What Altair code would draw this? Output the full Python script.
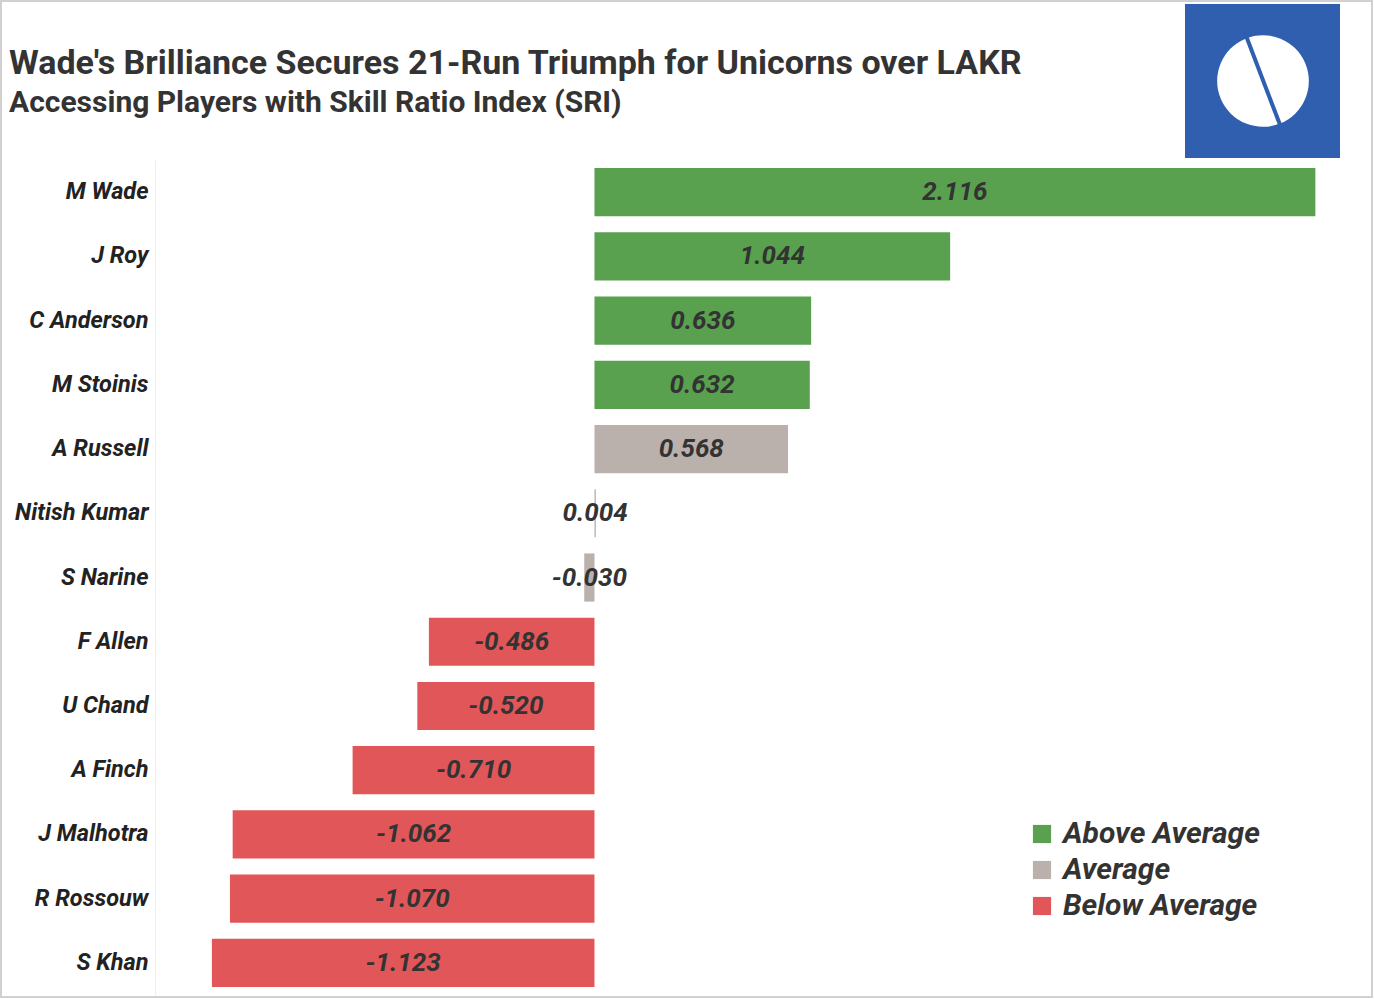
import altair as alt
import pandas as pd

players = ["M Wade", "J Roy", "C Anderson", "M Stoinis", "A Russell", "Nitish Kumar",
           "S Narine", "F Allen", "U Chand", "A Finch", "J Malhotra", "R Rossouw", "S Khan"]
sri = [2.116, 1.044, 0.636, 0.632, 0.568, 0.004, -0.030, -0.486, -0.520, -0.710,
       -1.062, -1.070, -1.123]
groups = ["Above Average"] * 4 + ["Average"] * 3 + ["Below Average"] * 6
labels = [f"{v:.3f}" for v in sri]

title_text = "Wade's Brilliance Secures 21-Run Triumph for Unicorns over LAKR"
subtitle_text = "Accessing Players with Skill Ratio Index (SRI)"

df = pd.DataFrame({"player": players, "sri": sri, "group": groups, "label": labels})
df["mid"] = df["sri"] / 2

cat_order = ["Above Average", "Average", "Below Average"]
cat_colors = ["#59A14F", "#BAB0AC", "#E15759"]

W, H = 1206, 835
LEFT, TOP = 155, 160

xscale = alt.Scale(domain=[-1.29, 2.25], nice=False, zero=False)
yenc = alt.Y("player:N", sort=players, title=None,
             scale=alt.Scale(paddingInner=0.25, paddingOuter=0.125),
             axis=alt.Axis(labelFont="Roboto", labelFontSize=23.5, labelFontWeight="bold",
                           labelFontStyle="italic", labelColor="#222222", ticks=False,
                           labelPadding=7, domainColor="#eeeeee", domainWidth=1,
                           labelLimit=0))

bars = alt.Chart(df).mark_bar().encode(
    x=alt.X("sri:Q", scale=xscale, axis=None),
    x2=alt.datum(0),
    y=yenc,
    color=alt.Color("group:N", scale=alt.Scale(domain=cat_order, range=cat_colors),
                    legend=alt.Legend(title=None, orient="none", legendX=872, legendY=659,
                                      symbolType="square", symbolSize=330, symbolStrokeWidth=0,
                                      labelFont="Roboto", labelFontSize=30, labelFontWeight="bold",
                                      labelFontStyle="italic", labelColor="#333333",
                                      rowPadding=6, labelOffset=6, labelLimit=0)),
)

text = alt.Chart(df).mark_text(font="Roboto", fontSize=26, fontWeight="bold",
                               fontStyle="italic", color="#333333").encode(
    x=alt.X("mid:Q", scale=xscale, axis=None),
    y=alt.Y("player:N", sort=players),
    text="label:N",
)

one = pd.DataFrame({"k": [0]})
frame = alt.Chart(one).mark_rect(fill="transparent", stroke="#d0d0d0", strokeWidth=2).encode(
    x=alt.value(-LEFT + 1), x2=alt.value(1374 - LEFT - 2),
    y=alt.value(-TOP + 1), y2=alt.value(999 - TOP - 2),
)
logo_bg = alt.Chart(one).mark_rect(fill="#2F5FAE").encode(
    x=alt.value(1185 - LEFT), x2=alt.value(1340 - LEFT),
    y=alt.value(4 - TOP), y2=alt.value(158 - TOP),
)
logo_ball = alt.Chart(one).mark_point(shape="circle", filled=True, fill="#FFFFFF",
                                      opacity=1, size=8400).encode(
    x=alt.value(1263 - LEFT), y=alt.value(81 - TOP),
)
logo_seam = alt.Chart(one).mark_rule(stroke="#2F5FAE", strokeWidth=4).encode(
    x=alt.value(1245 - LEFT), x2=alt.value(1282 - LEFT),
    y=alt.value(33 - TOP), y2=alt.value(130 - TOP),
)
title_mark = alt.Chart(one).mark_text(
    text=title_text, font="Roboto", fontSize=34, fontWeight="bold", color="#333333",
    align="left", baseline="alphabetic",
).encode(x=alt.value(9 - LEFT), y=alt.value(74 - TOP))
subtitle_mark = alt.Chart(one).mark_text(
    text=subtitle_text, font="Roboto", fontSize=30, fontWeight="bold", color="#333333",
    align="left", baseline="alphabetic",
).encode(x=alt.value(9 - LEFT), y=alt.value(112 - TOP))

chart = alt.layer(frame, bars, text, logo_bg, logo_ball, logo_seam,
                  title_mark, subtitle_mark).properties(
    width=W, height=H,
    autosize=alt.AutoSizeParams(type="none"),
    padding={"left": LEFT, "top": TOP, "right": 1374 - LEFT - W, "bottom": 999 - TOP - H},
).configure_view(stroke=None).configure_axis(grid=False)

chart.save("out.html", embed_options={"renderer": "svg", "actions": False})
